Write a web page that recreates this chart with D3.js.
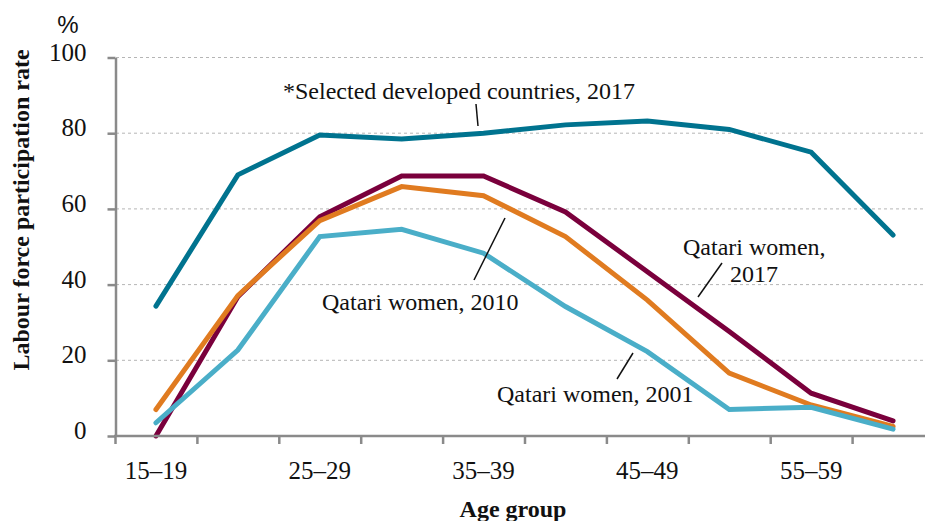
<!DOCTYPE html>
<html>
<head>
<meta charset="utf-8">
<script src="https://cdn.jsdelivr.net/npm/d3@7"></script>
<style>
  html, body { margin: 0; padding: 0; background: #fff; }
  svg { display: block; }
  text { font-family: "Liberation Serif", "Times New Roman", serif; fill: #111; }
</style>
</head>
<body>
<svg id="chart" width="925" height="521"></svg>
<script>
const categories = ["15–19","20–24","25–29","30–34","35–39","40–44","45–49","50–54","55–59","60–64"];
const shownTickLabels = ["15–19","25–29","35–39","45–49","55–59"];
const yTicks = [0, 20, 40, 60, 80, 100];

const developed2017 = [34.3, 69.0, 79.5, 78.5, 80.0, 82.2, 83.2, 81.0, 75.0, 53.1];
const qatari2017   = [0.0, 36.8, 57.9, 68.7, 68.7, 59.2, 43.4, 27.6, 11.3, 4.0];
const qatari2010   = [7.0, 37.1, 56.9, 65.9, 63.5, 52.7, 35.9, 16.6, 8.2, 2.5];
const qatari2001   = [3.5, 22.7, 52.7, 54.6, 48.3, 34.2, 22.3, 7.0, 7.6, 1.8];

const seriesNames = ["Qatari women, 2017", "Qatari women, 2010", "Qatari women, 2001", "*Selected developed countries, 2017"];
const seriesValues = [qatari2017, qatari2010, qatari2001, developed2017];
const seriesColors = ["#7a003c", "#e07b20", "#4aaec8", "#00738f"];

const svg = d3.select("#chart");
const x = d3.scaleBand().domain(categories).range([115, 934]).padding(0);
const y = d3.scaleLinear().domain([0, 100]).range([436, 57.5]);
const cx = c => x(c) + x.bandwidth() / 2;

// gridlines
svg.append("g").selectAll("line").data(yTicks.filter(v => v > 0)).join("line")
  .attr("x1", 116).attr("x2", 934)
  .attr("y1", d => y(d)).attr("y2", d => y(d))
  .attr("stroke", "#b5b5b5").attr("stroke-width", 1).attr("stroke-dasharray", "3,3");

// lines
const line = d3.line().x((d, i) => cx(categories[i])).y(d => y(d));
svg.append("g").selectAll("path").data(seriesValues).join("path")
  .attr("d", d => line(d))
  .attr("fill", "none")
  .attr("stroke", (d, i) => seriesColors[i])
  .attr("stroke-width", 5)
  .attr("stroke-linecap", "round")
  .attr("stroke-linejoin", "miter");

// y axis
const yAxis = svg.append("g").attr("transform", "translate(115.5,0)")
  .call(d3.axisLeft(y).tickValues(yTicks).tickSize(8).tickPadding(21).tickSizeOuter(0));
yAxis.attr("font-family", null).attr("font-size", null);
yAxis.select(".domain").attr("stroke", "#8a8a8a").attr("stroke-width", 2.5);
yAxis.selectAll(".tick line").attr("stroke", "#8a8a8a").attr("stroke-width", 2.5);
yAxis.selectAll(".tick text").attr("font-size", 25)
  .attr("fill", "#111").attr("dy", "0.1em");

// x axis
const xAxisG = svg.append("g");
xAxisG.append("line").attr("x1", 114).attr("x2", 934).attr("y1", y(0)).attr("y2", y(0))
  .attr("stroke", "#8a8a8a").attr("stroke-width", 2.5);
const edges = categories.map(c => x(c)).concat([x(categories[categories.length - 1]) + x.bandwidth()]);
xAxisG.selectAll("line.tk").data(edges).join("line").attr("class", "tk")
  .attr("x1", d => d + 0.5).attr("x2", d => d + 0.5)
  .attr("y1", y(0)).attr("y2", y(0) + 8)
  .attr("stroke", "#8a8a8a").attr("stroke-width", 2.5);
xAxisG.selectAll("text").data(shownTickLabels).join("text")
  .attr("x", d => cx(d)).attr("y", 479)
  .attr("text-anchor", "middle").attr("font-size", 25).text(d => d);

// axis titles
svg.append("text").attr("x", 68).attr("y", 33).attr("text-anchor", "middle")
  .style("font-family", "'Liberation Sans', Arial, sans-serif").attr("font-size", 24).text("%");
svg.append("text").attr("transform", "translate(29,210) rotate(-90)")
  .attr("text-anchor", "middle").attr("font-weight", "bold").attr("font-size", 24)
  .text("Labour force participation rate");
svg.append("text").attr("x", 513).attr("y", 517).attr("text-anchor", "middle")
  .attr("font-weight", "bold").attr("font-size", 24).text("Age group");

// annotations
const ann = svg.append("g");
function label(txt, xx, yy) {
  ann.append("text").attr("x", xx).attr("y", yy).attr("font-size", 24).text(txt);
}
function leader(x1, y1, x2, y2) {
  ann.append("line").attr("x1", x1).attr("y1", y1).attr("x2", x2).attr("y2", y2)
    .attr("stroke", "#111").attr("stroke-width", 1.5);
}
label(seriesNames[3], 283, 99);
leader(476, 104, 478, 126);
label(seriesNames[1], 322, 310);
leader(474, 280, 505, 218);
label(seriesNames[2], 497, 402);
leader(617, 379, 633, 353);
label("Qatari women,", 683, 255);
label("2017", 730, 282);
leader(698, 297, 722, 263);
</script>
</body>
</html>
